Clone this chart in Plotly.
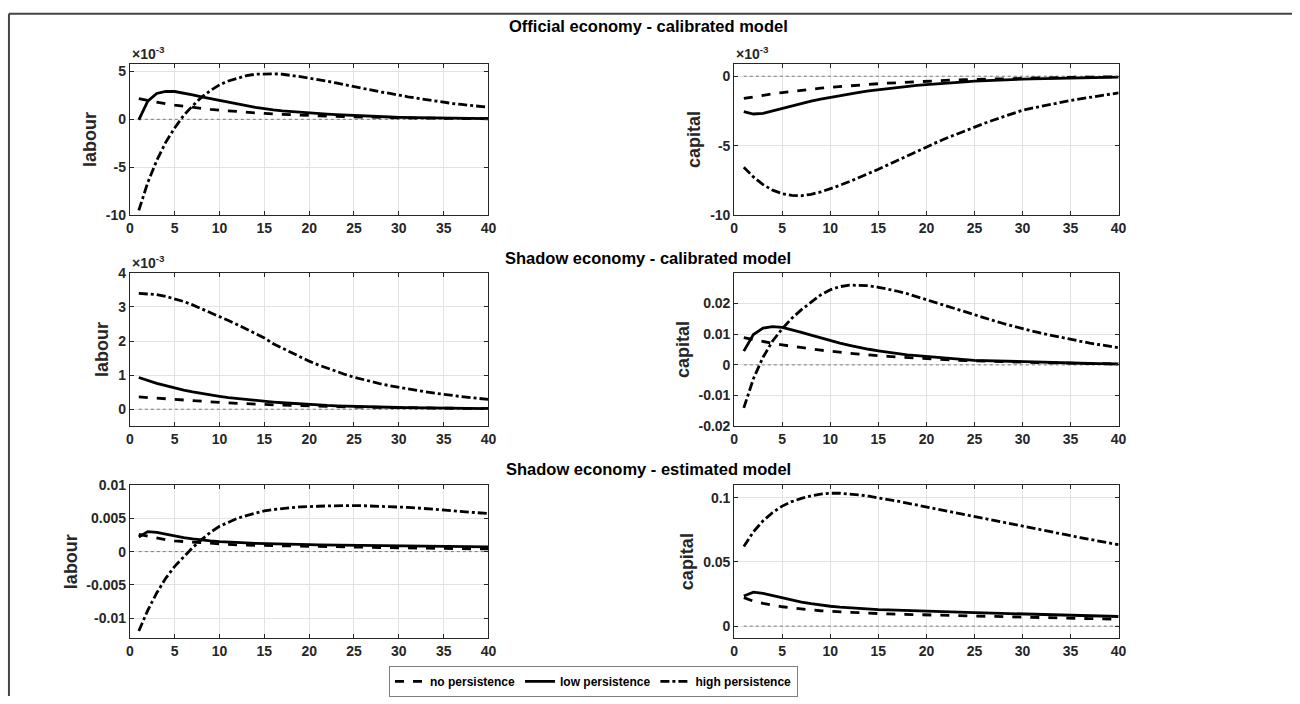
import plotly.graph_objects as go

# ---------------- data ----------------
periods = list(range(1, 41))

series_names = ["no persistence", "low persistence", "high persistence"]

# Official economy - calibrated model
off_labour_none = [0.00215,0.00195,0.00178,0.00162,0.00148,0.00135,0.00123,0.00112,0.00103,0.00095,0.00087,0.0008,0.00073,0.00067,0.00061,0.00056,0.00051,0.00047,0.00043,0.00039,0.00036,0.00033,0.0003,0.00027,0.00025,0.00023,0.00021,0.00019,0.00017,0.00016,0.00014,0.00013,0.00012,0.00011,0.0001,0.00009,0.00008,0.00007,0.000065,0.00006]
off_labour_low = [-0.00005,0.0019,0.0027,0.0029,0.0029,0.00275,0.00255,0.00235,0.00215,0.00195,0.00178,0.0016,0.00142,0.00125,0.0011,0.00098,0.00088,0.0008,0.00073,0.00067,0.0006,0.00054,0.00048,0.00043,0.00038,0.00034,0.0003,0.00027,0.00024,0.00021,0.00019,0.00017,0.00015,0.00013,0.00012,0.00011,0.0001,0.00009,0.00008,0.00007]
off_labour_high = [-0.0095,-0.0066,-0.0043,-0.0024,-0.0009,0.0004,0.0014,0.0023,0.003,0.0036,0.004,0.0043,0.00455,0.0047,0.00475,0.00475,0.0047,0.0046,0.00445,0.0043,0.00415,0.004,0.0038,0.0036,0.0034,0.00325,0.00305,0.00285,0.0027,0.0025,0.00235,0.0022,0.00205,0.0019,0.00175,0.00165,0.00155,0.00145,0.00135,0.00125]

off_capital_none = [-0.0016,-0.00148,-0.00137,-0.00127,-0.00118,-0.00109,-0.00101,-0.00093,-0.00086,-0.0008,-0.00074,-0.00068,-0.00063,-0.00058,-0.00054,-0.0005,-0.00046,-0.00042,-0.00039,-0.00036,-0.00033,-0.0003,-0.00027,-0.00025,-0.00023,-0.00021,-0.00019,-0.00017,-0.00015,-0.00014,-0.00012,-0.00011,-0.0001,-0.00009,-0.00008,-0.00007,-0.00006,-0.00005,-0.00005,-0.00004]
off_capital_low = [-0.00255,-0.00272,-0.00268,-0.0025,-0.0023,-0.00212,-0.00195,-0.0018,-0.00165,-0.00152,-0.00139,-0.00127,-0.00116,-0.00106,-0.00097,-0.00088,-0.0008,-0.00073,-0.00066,-0.0006,-0.00054,-0.00049,-0.00044,-0.0004,-0.00036,-0.00032,-0.00029,-0.00026,-0.00023,-0.00021,-0.00019,-0.00017,-0.00015,-0.00013,-0.00012,-0.0001,-0.00009,-0.00008,-0.00007,-0.00006]
off_capital_high = [-0.00655,-0.00725,-0.0078,-0.0082,-0.00845,-0.00858,-0.0086,-0.0085,-0.00833,-0.0081,-0.00785,-0.00758,-0.0073,-0.007,-0.0067,-0.00638,-0.00605,-0.00572,-0.0054,-0.00508,-0.00478,-0.00448,-0.0042,-0.00393,-0.00367,-0.0034,-0.00315,-0.0029,-0.00267,-0.00245,-0.0023,-0.00215,-0.00202,-0.00188,-0.00175,-0.00163,-0.00152,-0.00141,-0.0013,-0.0012]

# Shadow economy - calibrated model
shc_labour_none = [0.00036,0.00034,0.00032,0.0003,0.00028,0.00026,0.000245,0.00023,0.000215,0.0002,0.000185,0.00017,0.00016,0.00015,0.00014,0.00013,0.00012,0.00011,0.0001,0.000095,0.000088,0.000081,0.000075,0.00007,0.000065,0.00006,0.000055,0.00005,0.000046,0.000042,0.000039,0.000036,0.000033,0.00003,0.000028,0.000026,0.000024,0.000022,0.00002,0.000018]
shc_labour_low = [0.00093,0.00084,0.00076,0.00069,0.00062,0.00056,0.00051,0.00046,0.00042,0.00038,0.00034,0.00031,0.00028,0.00025,0.00023,0.00021,0.00019,0.00017,0.00015,0.00014,0.00012,0.00011,0.0001,0.00009,0.00008,0.000075,0.00007,0.00006,0.000055,0.00005,0.000045,0.00004,0.000036,0.000033,0.00003,0.000027,0.000024,0.000022,0.00002,0.000018]
shc_labour_high = [0.0034,0.00339,0.00336,0.00331,0.00324,0.00316,0.00306,0.00295,0.00284,0.00272,0.0026,0.00248,0.00235,0.00222,0.00209,0.00192,0.00179,0.00166,0.00153,0.00141,0.0013,0.0012,0.0011,0.00102,0.00094,0.00087,0.0008,0.00074,0.00069,0.00064,0.00059,0.00055,0.00051,0.00047,0.00043,0.0004,0.00037,0.00034,0.00031,0.00029]

shc_capital_none = [0.0089,0.0082,0.0076,0.007,0.0065,0.006,0.0056,0.0052,0.0048,0.0044,0.0041,0.0038,0.0035,0.0032,0.003,0.0028,0.0026,0.0024,0.0022,0.002,0.0018,0.0017,0.0015,0.0014,0.0013,0.0012,0.0011,0.001,0.0009,0.00085,0.0008,0.0007,0.00065,0.0006,0.00055,0.0005,0.00045,0.0004,0.00035,0.0003]
shc_capital_low = [0.0045,0.0099,0.012,0.0125,0.0122,0.0115,0.0106,0.0097,0.0088,0.0079,0.0071,0.0064,0.0057,0.0051,0.0046,0.0041,0.0037,0.0033,0.003,0.0027,0.0024,0.0021,0.0019,0.0017,0.0015,0.0014,0.0012,0.0011,0.001,0.0009,0.0008,0.0007,0.00065,0.0006,0.00055,0.0005,0.00045,0.0004,0.00035,0.0003]
shc_capital_high = [-0.014,-0.0045,0.0025,0.0078,0.0118,0.0152,0.018,0.0205,0.0228,0.0245,0.0255,0.026,0.026,0.0258,0.0253,0.0247,0.024,0.0232,0.0222,0.0212,0.0202,0.0192,0.0182,0.0172,0.0162,0.0153,0.0144,0.0135,0.0126,0.0118,0.011,0.0103,0.0096,0.0089,0.0083,0.0077,0.0071,0.0066,0.0061,0.0056]

# Shadow economy - estimated model
she_labour_none = [0.0026,0.0023,0.002,0.0018,0.0016,0.0015,0.0014,0.0013,0.0012,0.0011,0.00105,0.001,0.00097,0.00094,0.00091,0.00088,0.00085,0.00082,0.0008,0.00077,0.00075,0.00073,0.00071,0.00069,0.00067,0.00065,0.00063,0.00061,0.00059,0.00057,0.00055,0.00053,0.00051,0.0005,0.00048,0.00047,0.00045,0.00044,0.00042,0.0004]
she_labour_low = [0.0022,0.003,0.0029,0.0026,0.0023,0.0021,0.0019,0.0017,0.0016,0.0015,0.0014,0.00135,0.0013,0.00125,0.0012,0.00117,0.00114,0.00111,0.00108,0.00105,0.00102,0.001,0.00098,0.00096,0.00094,0.00092,0.0009,0.00088,0.00086,0.00084,0.00082,0.0008,0.00079,0.00078,0.00077,0.00076,0.00075,0.00074,0.00073,0.00072]
she_labour_high = [-0.0119,-0.0088,-0.0062,-0.004,-0.0022,-0.0008,0.0006,0.0018,0.0029,0.0038,0.0044,0.005,0.0054,0.0058,0.0061,0.0063,0.0065,0.0066,0.0067,0.0068,0.0068,0.00685,0.0069,0.0069,0.0069,0.00688,0.00685,0.0068,0.00675,0.0067,0.00663,0.00655,0.00645,0.00635,0.00625,0.00615,0.00605,0.00595,0.00582,0.0057]

she_capital_none = [0.0222,0.0195,0.0178,0.0163,0.0151,0.0141,0.0133,0.0126,0.012,0.0115,0.0111,0.0107,0.0103,0.01,0.0097,0.0095,0.0093,0.0091,0.0089,0.0087,0.0085,0.0083,0.0081,0.0079,0.0077,0.0075,0.0074,0.0072,0.0071,0.0069,0.0068,0.0066,0.0065,0.0063,0.0062,0.006,0.0059,0.0057,0.0056,0.0054]
she_capital_low = [0.0235,0.0265,0.0255,0.0238,0.022,0.0203,0.0188,0.0175,0.0164,0.0155,0.0148,0.0142,0.0137,0.0133,0.0129,0.0126,0.0123,0.012,0.0117,0.0115,0.0113,0.0111,0.0109,0.0107,0.0105,0.0103,0.0101,0.0099,0.0097,0.0095,0.0093,0.0091,0.0089,0.0087,0.0085,0.0083,0.0081,0.0079,0.0077,0.0075]
she_capital_high = [0.062,0.0735,0.082,0.0885,0.0935,0.097,0.0995,0.1015,0.1028,0.1035,0.1035,0.103,0.1022,0.1012,0.1,0.0987,0.0973,0.0958,0.0943,0.0927,0.091,0.0895,0.088,0.0865,0.085,0.0835,0.082,0.0805,0.079,0.0775,0.076,0.0746,0.0732,0.0718,0.0704,0.069,0.0676,0.0662,0.0648,0.0634]

section_titles = ["Official economy - calibrated model",
                  "Shadow economy - calibrated model",
                  "Shadow economy - estimated model"]
y_titles = ["labour", "capital"]

x_ticks = [0, 5, 10, 15, 20, 25, 30, 35, 40]

# tick values and labels for each panel
p1_ticks = [-0.01, -0.005, 0, 0.005]
p1_labels = ["-10", "-5", "0", "5"]
p2_ticks = [-0.01, -0.005, 0]
p2_labels = ["-10", "-5", "0"]
p3_ticks = [0, 0.001, 0.002, 0.003, 0.004]
p3_labels = ["0", "1", "2", "3", "4"]
p4_ticks = [-0.02, -0.01, 0, 0.01, 0.02]
p4_labels = ["-0.02", "-0.01", "0", "0.01", "0.02"]
p5_ticks = [-0.01, -0.005, 0, 0.005, 0.01]
p5_labels = ["-0.01", "-0.005", "0", "0.005", "0.01"]
p6_ticks = [0, 0.05, 0.1]
p6_labels = ["0", "0.05", "0.1"]

# ---------------- figure ----------------
W, H = 1300, 704
FONT = "Liberation Sans, Arial, Helvetica, sans-serif"

panels = [
    (off_labour_none, off_labour_low, off_labour_high, p1_ticks, p1_labels, [-0.01, 0.0058], y_titles[0], 0, 0, True),
    (off_capital_none, off_capital_low, off_capital_high, p2_ticks, p2_labels, [-0.01, 0.0009], y_titles[1], 1, 0, True),
    (shc_labour_none, shc_labour_low, shc_labour_high, p3_ticks, p3_labels, [-0.0005, 0.004], y_titles[0], 0, 1, True),
    (shc_capital_none, shc_capital_low, shc_capital_high, p4_ticks, p4_labels, [-0.02, 0.03], y_titles[1], 1, 1, False),
    (she_labour_none, she_labour_low, she_labour_high, p5_ticks, p5_labels, [-0.013, 0.01], y_titles[0], 0, 2, False),
    (she_capital_none, she_capital_low, she_capital_high, p6_ticks, p6_labels, [-0.0095, 0.11], y_titles[1], 1, 2, False),
]

# pixel boxes
col_px = [(127, 489), (737, 1125)]
row_px = [(57, 212), (271, 428), (488, 645)]
title_y_px = [18, 256, 472]

dashes = ["dash", "solid", "dashdot"]

fig = go.Figure()
layout_axes = {}
annotations = []

for i, (s_none, s_low, s_high, yt, yl, yr, ytitle, c, r, scaled) in enumerate(panels):
    n = i + 1
    xa = "x" if n == 1 else f"x{n}"
    ya = "y" if n == 1 else f"y{n}"
    fig.add_trace(go.Scatter(x=periods, y=[0 * p for p in periods], mode="lines",
                             line=dict(color="#7a7a7a", width=1, dash="dot"),
                             xaxis=xa, yaxis=ya, showlegend=False, hoverinfo="skip"))
    for k, (s, d) in enumerate(zip([s_none, s_low, s_high], dashes)):
        fig.add_trace(go.Scatter(x=periods, y=s, mode="lines", name=series_names[k],
                                 line=dict(color="black", width=2.8, dash=d),
                                 xaxis=xa, yaxis=ya, showlegend=(n == 1)))
    x0, x1 = col_px[c]
    y0, y1 = row_px[r]
    xd = [x0 / W, x1 / W]
    yd = [1 - y1 / H, 1 - y0 / H]
    axis_common = dict(showline=True, linecolor="#262626", linewidth=1, mirror="allticks",
                       ticks="inside", ticklen=4, tickcolor="#262626",
                       showgrid=True, gridcolor="#e3e3e3", gridwidth=1, zeroline=False,
                       tickfont=dict(family=FONT, size=14, color="#262626", weight="bold"))
    layout_axes["xaxis" if n == 1 else f"xaxis{n}"] = dict(
        domain=xd, anchor=ya, range=[0, 40], tickmode="array", tickvals=x_ticks, **axis_common)
    layout_axes["yaxis" if n == 1 else f"yaxis{n}"] = dict(
        domain=yd, anchor=xa, range=yr, tickmode="array", tickvals=yt, ticktext=yl,
        title=dict(text=ytitle, font=dict(family=FONT, size=18, color="#262626", weight="bold"), standoff=4),
        **axis_common)
    if scaled:
        annotations.append(dict(x=xd[0], y=yd[1], xref="paper", yref="paper",
                                xanchor="left", yanchor="bottom", showarrow=False,
                                text="×10<sup>-3</sup>", yshift=0,
                                font=dict(family=FONT, size=14, color="#262626", weight="bold")))

for t, ty in zip(section_titles, title_y_px):
    annotations.append(dict(x=650 / W, y=1 - ty / H, xref="paper", yref="paper",
                            xanchor="center", yanchor="middle", showarrow=False, text=t,
                            font=dict(family=FONT, size=16.5, color="black", weight="bold")))

shapes = [
    dict(type="line", xref="paper", yref="paper", x0=5 / W, x1=1.0, y0=1 - 6 / H, y1=1 - 6 / H,
         line=dict(color="#444444", width=2)),
    dict(type="line", xref="paper", yref="paper", x0=5 / W, x1=5 / W, y0=0, y1=1 - 6 / H,
         line=dict(color="#444444", width=2)),
]

fig.update_layout(
    width=W, height=H,
    margin=dict(l=0, r=0, t=0, b=0),
    paper_bgcolor="white", plot_bgcolor="white",
    font=dict(family=FONT, color="#262626"),
    showlegend=True,
    legend=dict(orientation="h", x=595 / W, y=1 - 689 / H, xanchor="center", yanchor="middle",
                bordercolor="#7f7f7f", borderwidth=1, bgcolor="white",
                font=dict(family=FONT, size=12, color="black", weight="bold"),
                itemwidth=30, tracegroupgap=0),
    annotations=annotations,
    shapes=shapes,
    **layout_axes,
)

fig.write_html("out.html", config={"displayModeBar": False},
               post_script="document.body.style.margin='0px';")
